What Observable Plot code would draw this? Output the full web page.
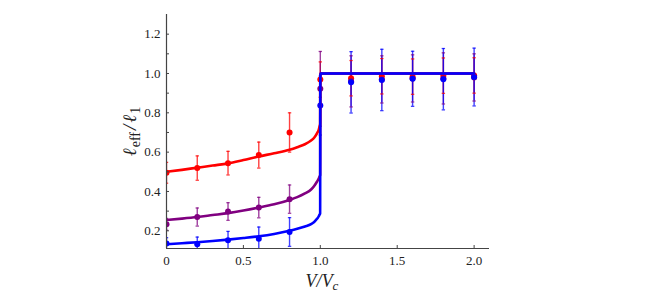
<!DOCTYPE html>
<html><head><meta charset="utf-8">
<script src="https://cdn.jsdelivr.net/npm/d3@7"></script>
<script src="https://cdn.jsdelivr.net/npm/@observablehq/plot@0.6"></script>
<style>
html,body{margin:0;padding:0;background:#fff;}
</style>
</head><body><div id="chart"></div>
<script>
// ---- data ----
const seriesNames = ["red", "purple", "blue"];
const seriesColors = ["#ff0000", "#800080", "#0000ff"];

// fitted curves (x = V/Vc)
const curveX      = [0, 0.1, 0.2, 0.3, 0.4, 0.5, 0.6, 0.7, 0.8, 0.85, 0.9, 0.94, 0.96, 0.98, 0.99, 0.995, 0.999, 1.0, 2.0];
const redCurve    = [0.500, 0.510, 0.521, 0.532, 0.543, 0.560, 0.578, 0.594, 0.612, 0.625, 0.640, 0.659, 0.673, 0.698, 0.715, 0.730, 0.745, 1.0, 1.0];
const purpleCurve = [0.255, 0.262, 0.270, 0.280, 0.290, 0.303, 0.318, 0.335, 0.357, 0.371, 0.390, 0.410, 0.428, 0.452, 0.466, 0.476, 0.484, 1.0, 1.0];
const blueCurve   = [0.132, 0.137, 0.142, 0.148, 0.155, 0.163, 0.172, 0.184, 0.200, 0.210, 0.222, 0.234, 0.245, 0.262, 0.274, 0.282, 0.288, 1.0, 1.0];

// data points with error bars
const pointX    = [0, 0.2, 0.4, 0.6, 0.8, 1.0, 1.2, 1.4, 1.6, 1.8, 2.0];
const redY      = [0.495, 0.519, 0.544, 0.585, 0.700, 0.969, 0.976, 0.986, 0.984, 0.989, 0.990];
const redErr    = [0.053, 0.062, 0.060, 0.066, 0.100, 0.090, 0.090, 0.090, 0.090, 0.090, 0.090];
const purpleY   = [0.233, 0.270, 0.298, 0.318, 0.361, 0.922, 0.960, 0.970, 0.975, 0.975, 0.980];
const purpleErr = [0.030, 0.046, 0.045, 0.052, 0.072, 0.190, 0.130, 0.120, 0.120, 0.130, 0.120];
const blueY     = [0.135, 0.131, 0.152, 0.160, 0.194, 0.837, 0.955, 0.967, 0.973, 0.971, 0.982];
const blueErr   = [0.030, 0.037, 0.045, 0.059, 0.073, 0.150, 0.156, 0.156, 0.140, 0.156, 0.147];

// axes
const xDomain = [0, 2.1];
const yDomain = [0.11, 1.3];
const xTicks = [0, 0.5, 1.0, 1.5, 2.0];
const xTickLabels = ["0", "0.5", "1.0", "1.5", "2.0"];
const yTicks = [0.2, 0.4, 0.6, 0.8, 1.0, 1.2];
const yTickLabels = ["0.2", "0.4", "0.6", "0.8", "1.0", "1.2"];
const yMinorTicks = [0.3, 0.5, 0.7, 0.9, 1.1];

// ---- build tables ----
const curves = [redCurve, purpleCurve, blueCurve];
const ys = [redY, purpleY, blueY];
const errs = [redErr, purpleErr, blueErr];
const curveRows = seriesNames.flatMap((s, k) => curveX.map((x, i) => ({x, y: curves[k][i], s})));
const pointRows = seriesNames.flatMap((s, k) => pointX.map((x, i) => ({x, y: ys[k][i], e: errs[k][i], s})));
const capRows = pointRows.flatMap(d => [{x: d.x, y: d.y - d.e, s: d.s}, {x: d.x, y: d.y + d.e, s: d.s}]);

const W = 646, H = 292;
const mL = 166, mR = 157, mT = 14, mB = 44;
const pw = W - mL - mR, ph = H - mT - mB;
const capSymbol = {draw(ctx, size) { const h = Math.sqrt(size / Math.PI); ctx.moveTo(-h, 0); ctx.lineTo(h, 0); }};
const axisColor = "#444";
const serif = "Liberation Serif";

const chart = Plot.plot({
  width: W, height: H,
  marginLeft: mL, marginRight: mR, marginTop: mT, marginBottom: mB,
  style: {background: "#fff", color: "#333"},
  x: {domain: xDomain},
  y: {domain: yDomain},
  color: {domain: seriesNames, range: seriesColors},
  marks: [
    Plot.ruleX(pointRows, {x: "x", y1: d => d.y - d.e, y2: d => d.y + d.e, stroke: "s", strokeWidth: 1.4, strokeOpacity: 0.75, clip: true}),
    Plot.dot(capRows, {x: "x", y: "y", stroke: "s", symbol: capSymbol, r: 1.7, strokeWidth: 1.3, strokeOpacity: 0.75, clip: true}),
    Plot.dot(pointRows, {x: "x", y: "y", fill: "s", r: 3, clip: true}),
    Plot.line(curveRows, {x: "x", y: "y", z: "s", stroke: "s", strokeWidth: 2.6, curve: "monotone-x", clip: true}),
    Plot.ruleX([xDomain[0]], {stroke: axisColor, strokeWidth: 1.2}),
    Plot.ruleY([yDomain[0]], {stroke: axisColor, strokeWidth: 1.2}),
    Plot.tickY(yTicks.concat(yMinorTicks), {y: d => d, stroke: axisColor, insetRight: pw - 3}),
    Plot.tickX(xTicks, {x: d => d, stroke: axisColor, insetTop: ph - 3}),
    Plot.axisX({ticks: xTicks, tickFormat: d => xTickLabels[xTicks.indexOf(d)], tickSize: 0, tickPadding: 7, fill: "#222",
      fontFamily: serif, fontSize: 13,
      label: "V/Vc", labelAnchor: "center", labelOffset: 38, labelArrow: "none"}),
    Plot.axisY({ticks: yTicks, tickFormat: d => yTickLabels[yTicks.indexOf(d)], tickSize: 0, tickPadding: 6, fill: "#222",
      fontFamily: serif, fontSize: 13,
      label: "ℓeff/ℓ1", labelAnchor: "center", labelOffset: 44, labelArrow: "none"})
  ]
});
document.getElementById("chart").appendChild(chart);

// rich-text axis titles (subscripts)
const svg = d3.select(chart);
svg.selectAll("text").attr("font-family", serif);
function richLabel(sel, parts, size, subSize) {
  const t = sel.select("text");
  t.text(null).attr("font-size", size).attr("fill", "#222").attr("font-family", serif);
  for (const p of parts) {
    const ts = t.append("tspan").text(p.t);
    if (p.i) ts.attr("font-style", "italic");
    if (p.f) ts.attr("font-family", p.f);
    if (p.sub) ts.attr("font-size", subSize);
    if (p.dy) ts.attr("dy", p.dy);
    if (p.dx) ts.attr("dx", p.dx);
  }
}
richLabel(svg.select('g[aria-label="y-axis label"]'),
  [{t: "ℓ", i: true, f: "DejaVu Serif"}, {t: "eff", sub: true, dy: 4, dx: 1}, {t: "/", i: true, dy: -4, dx: 2},
   {t: "ℓ", i: true, f: "DejaVu Serif", dx: 2}, {t: "1", sub: true, dy: 4, dx: 1}], 19, 14);
richLabel(svg.select('g[aria-label="x-axis label"]'),
  [{t: "V", i: true}, {t: "/", i: true}, {t: "V", i: true}, {t: "c", i: true, sub: true, dy: 3}], 18, 13);
const xl = svg.select('g[aria-label="x-axis label"]');
xl.attr("transform", "translate(-6,0) " + (xl.attr("transform") || ""));
</script>
</body></html>
